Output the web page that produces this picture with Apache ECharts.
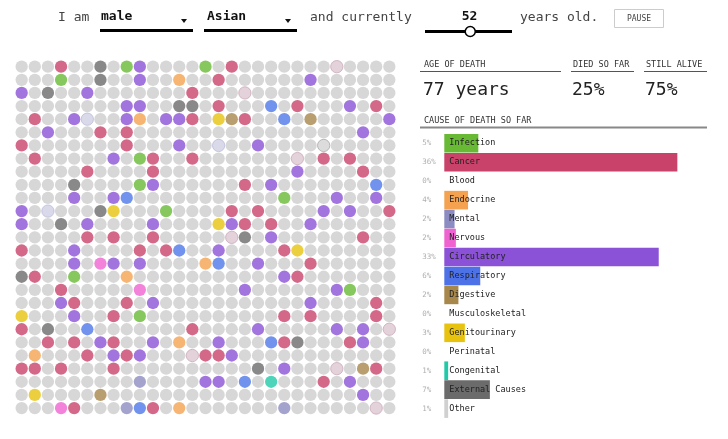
<!DOCTYPE html>
<html>
<head>
<meta charset="utf-8">
<title>How you will die</title>
<script src="https://cdn.jsdelivr.net/npm/echarts@6/dist/echarts.min.js"></script>
<style>
html,body{margin:0;padding:0;background:#fff;}
#main{width:728px;height:439px;}
</style>
</head>
<body>
<div id="main"></div>
<script>
// size of the dot grid (one dot = one person)
var COLS = 29, ROWS = 27;

// who died so far, row by row: column + cause code
// I infection, C cancer, E endocrine, M mental, N nervous, V circulatory, R respiratory,
// D digestive, G genitourinary, K congenital, X external, p/l/g = dots still fading in
var deaths = [
    "3C 6X 8I 9V 14I 16C 24p",
    "3I 6X 9V 12E 15C 22V",
    "0V 2X 5V 13C 17p",
    "8V 9V 12X 13X 15C 19R 21C 25V 27C",
    "1C 4V 5l 8V 9E 11V 12V 13C 15G 16D 17C 20R 22D 28V",
    "2V 6C 8C 26V",
    "0C 8C 12V 15l 18V 23g",
    "1C 7V 9I 10C 13C 21p 23C 25C",
    "5C 10C 21V 26C",
    "4X 9I 10V 17C 19V 27R",
    "4V 7V 8R 20I 24V 27V",
    "0V 2l 6X 7G 11I 16C 18C 23V 25V 28C",
    "0V 3X 5V 10V 15G 16V 17C 19C 22V",
    "5C 7C 10C 16p 17X 19V 26C",
    "0C 4V 9C 11C 12R 15V 20C 21G",
    "4V 6N 7V 9V 14E 15R 18V 22C",
    "0X 1C 4I 8E 20V 21C",
    "3C 9N 17V 24V 25I",
    "3V 4C 8C 10V 22V 27C",
    "0G 4V 7C 9I 20C 22C 27C",
    "0C 2X 5R 13C 18V 24V 26V 28p",
    "2C 4C 6V 7C 10V 12E 15V 19R 20C 21X 25C 26V",
    "1E 5C 7V 8C 9V 13p 14C 15C 16V",
    "0C 1C 3C 7C 18X 20V 24p 26D 27C",
    "9M 14V 15V 17R 19K 23C 25V",
    "1G 6D 26V",
    "3N 4C 8M 9R 10C 12E 20M 27p"
];

// cause of death so far
var causes = ['Infection', 'Cancer', 'Blood', 'Endocrine', 'Mental', 'Nervous', 'Circulatory', 'Respiratory',
    'Digestive', 'Musculoskeletal', 'Genitourinary', 'Perinatal', 'Congenital', 'External Causes', 'Other'];
var shares = [5.3, 36.3, 0, 3.7, 1.6, 1.8, 33.4, 5.6, 2.2, 0, 3.2, 0, 0.6, 7.1, 0.6];
var shareLabels = ['5%', '36%', '0%', '4%', '2%', '2%', '33%', '6%', '2%', '0%', '3%', '0%', '1%', '7%', '1%'];
var causeColors = ['#68ba35', '#c8426a', '#c33', '#f4a24f', '#8c8cc2', '#ef63d1', '#8b51d6', '#4d72e8',
    '#a8874b', '#999', '#e7c30f', '#999', '#22c9a9', '#6b6b6b', '#d0d0d0'];

// header + stats
var sex = 'male', race = 'Asian', currentAge = 52;
var ageOfDeath = 77, diedPct = 25, alivePct = 75;

var dotColor = {
    '.': ['#cdcdcd', null],
    'I': ['#68ba35', null], 'C': ['#c8426a', null], 'E': ['#f4a24f', null],
    'M': ['#8c8cc2', null], 'N': ['#ef63d1', null], 'V': ['#8b51d6', null],
    'R': ['#4d78ea', null], 'D': ['#a8874b', null], 'G': ['#e7c30f', null],
    'K': ['#22c9a9', null], 'X': ['#6b6b6b', null],
    'p': ['#dcc7d1', '#c9a9b9'], 'l': ['#cfd0e4', '#b9bbdb'], 'g': ['#d3d3d3', '#a9a9a9']
};

// everyone starts alive, then mark the dead
var cells = [];
for (var r = 0; r < ROWS; r++) {
    cells.push([]);
    for (var c = 0; c < COLS; c++) cells[r].push('.');
    deaths[r].split(' ').forEach(function (t) {
        cells[r][parseInt(t, 10)] = t.slice(-1);
    });
}
var dots = [];
for (var r = 0; r < ROWS; r++) {
    for (var c = 0; c < COLS; c++) {
        var col = dotColor[cells[r][c]];
        dots.push({
            value: [c, r],
            itemStyle: { color: col[0], borderColor: col[1] || col[0], borderWidth: col[1] ? 1 : 0 }
        });
    }
}

var MONO = '"DejaVu Sans Mono", "Liberation Mono", monospace';

function txt(x, y, s, size, color, opt) {
    opt = opt || {};
    return {
        type: 'text', x: x, y: y, silent: true,
        style: {
            text: s, fill: color,
            font: (opt.bold ? 'bold ' : '') + size + 'px ' + MONO,
            textAlign: opt.align || 'left', align: opt.align || 'left',
            textVerticalAlign: 'middle', verticalAlign: 'middle'
        }
    };
}
function rect(x, y, w, h, fill) {
    return { type: 'rect', silent: true, shape: { x: x, y: y, width: w, height: h }, style: { fill: fill } };
}

var knobX = 425 + 87 * currentAge / 100;

var graphics = [
    // header sentence
    txt(58, 18, 'I am', 13, '#444'),
    txt(101, 17, sex, 13, '#111', { bold: true }),
    rect(100, 29, 93, 3, '#000'),
    { type: 'polygon', silent: true, shape: { points: [[181, 19], [187, 19], [184, 23]] }, style: { fill: '#111' } },
    txt(207, 17, race, 13, '#111', { bold: true }),
    rect(204, 29, 93, 3, '#000'),
    { type: 'polygon', silent: true, shape: { points: [[285, 19], [291, 19], [288, 23]] }, style: { fill: '#111' } },
    txt(310, 18, 'and currently', 13, '#444'),
    txt(469.5, 17, String(currentAge), 13, '#111', { bold: true, align: 'center' }),
    rect(425, 30, 87, 3, '#000'),
    { type: 'circle', silent: true, shape: { cx: knobX, cy: 31.5, r: 5 }, style: { fill: '#fff', stroke: '#000', lineWidth: 1.5 } },
    txt(520, 18, 'years old.', 13, '#444'),
    { type: 'rect', silent: true, shape: { x: 614.5, y: 9.5, width: 49, height: 18 }, style: { fill: '#fff', stroke: '#ccc', lineWidth: 1 } },
    txt(639, 18.5, 'PAUSE', 8, '#444', { align: 'center' }),

    // stats
    txt(424, 64.5, 'AGE OF DEATH', 8.5, '#333'),
    rect(420, 71, 141, 1, '#555'),
    txt(573, 64.5, 'DIED SO FAR', 8.5, '#333'),
    rect(571, 71, 63, 1, '#555'),
    txt(646, 64.5, 'STILL ALIVE', 8.5, '#333'),
    rect(644, 71, 63, 1, '#555'),
    txt(423, 90, ageOfDeath + ' years', 18, '#222'),
    txt(572, 90, diedPct + '%', 18, '#222'),
    txt(645, 90, alivePct + '%', 18, '#222'),
    txt(424, 120.5, 'CAUSE OF DEATH SO FAR', 8.5, '#333'),
    rect(420, 126.5, 287, 2, '#888')
];

var chart = echarts.init(document.getElementById('main'));
chart.setOption({
    animation: false,
    backgroundColor: '#fff',
    textStyle: { fontFamily: MONO },
    grid: [
        { left: 15.1, top: 60.1, width: 380.8, height: 354.5 },
        { left: 444.3, top: 133.8, width: 256.8, height: 284.3 }
    ],
    xAxis: [
        { gridIndex: 0, type: 'value', min: -0.5, max: COLS - 0.5, show: false },
        { gridIndex: 1, type: 'value', min: 0, max: 40, show: false }
    ],
    yAxis: [
        { gridIndex: 0, type: 'value', min: -0.5, max: ROWS - 0.5, inverse: true, show: false },
        {
            gridIndex: 1, type: 'category', data: causes, inverse: true, position: 'left', z: 10,
            axisLine: { show: false }, axisTick: { show: false }, splitLine: { show: false },
            axisLabel: { inside: true, margin: 5, fontSize: 8.5, color: '#222', fontFamily: MONO }
        },
        {
            gridIndex: 1, type: 'category', data: shareLabels, inverse: true, position: 'left',
            axisLine: { show: false }, axisTick: { show: false }, splitLine: { show: false },
            axisLabel: { align: 'left', margin: 22, fontSize: 7.5, color: '#b0b0b0', fontFamily: MONO }
        }
    ],
    series: [
        {
            type: 'scatter', xAxisIndex: 0, yAxisIndex: 0,
            symbol: 'circle', symbolSize: 12.3, silent: true,
            data: dots
        },
        {
            type: 'bar', xAxisIndex: 1, yAxisIndex: 1,
            barWidth: 18.6, silent: true,
            data: shares.map(function (v, i) {
                return { value: v, itemStyle: { color: causeColors[i] } };
            })
        }
    ],
    graphic: graphics
});
</script>
</body>
</html>
